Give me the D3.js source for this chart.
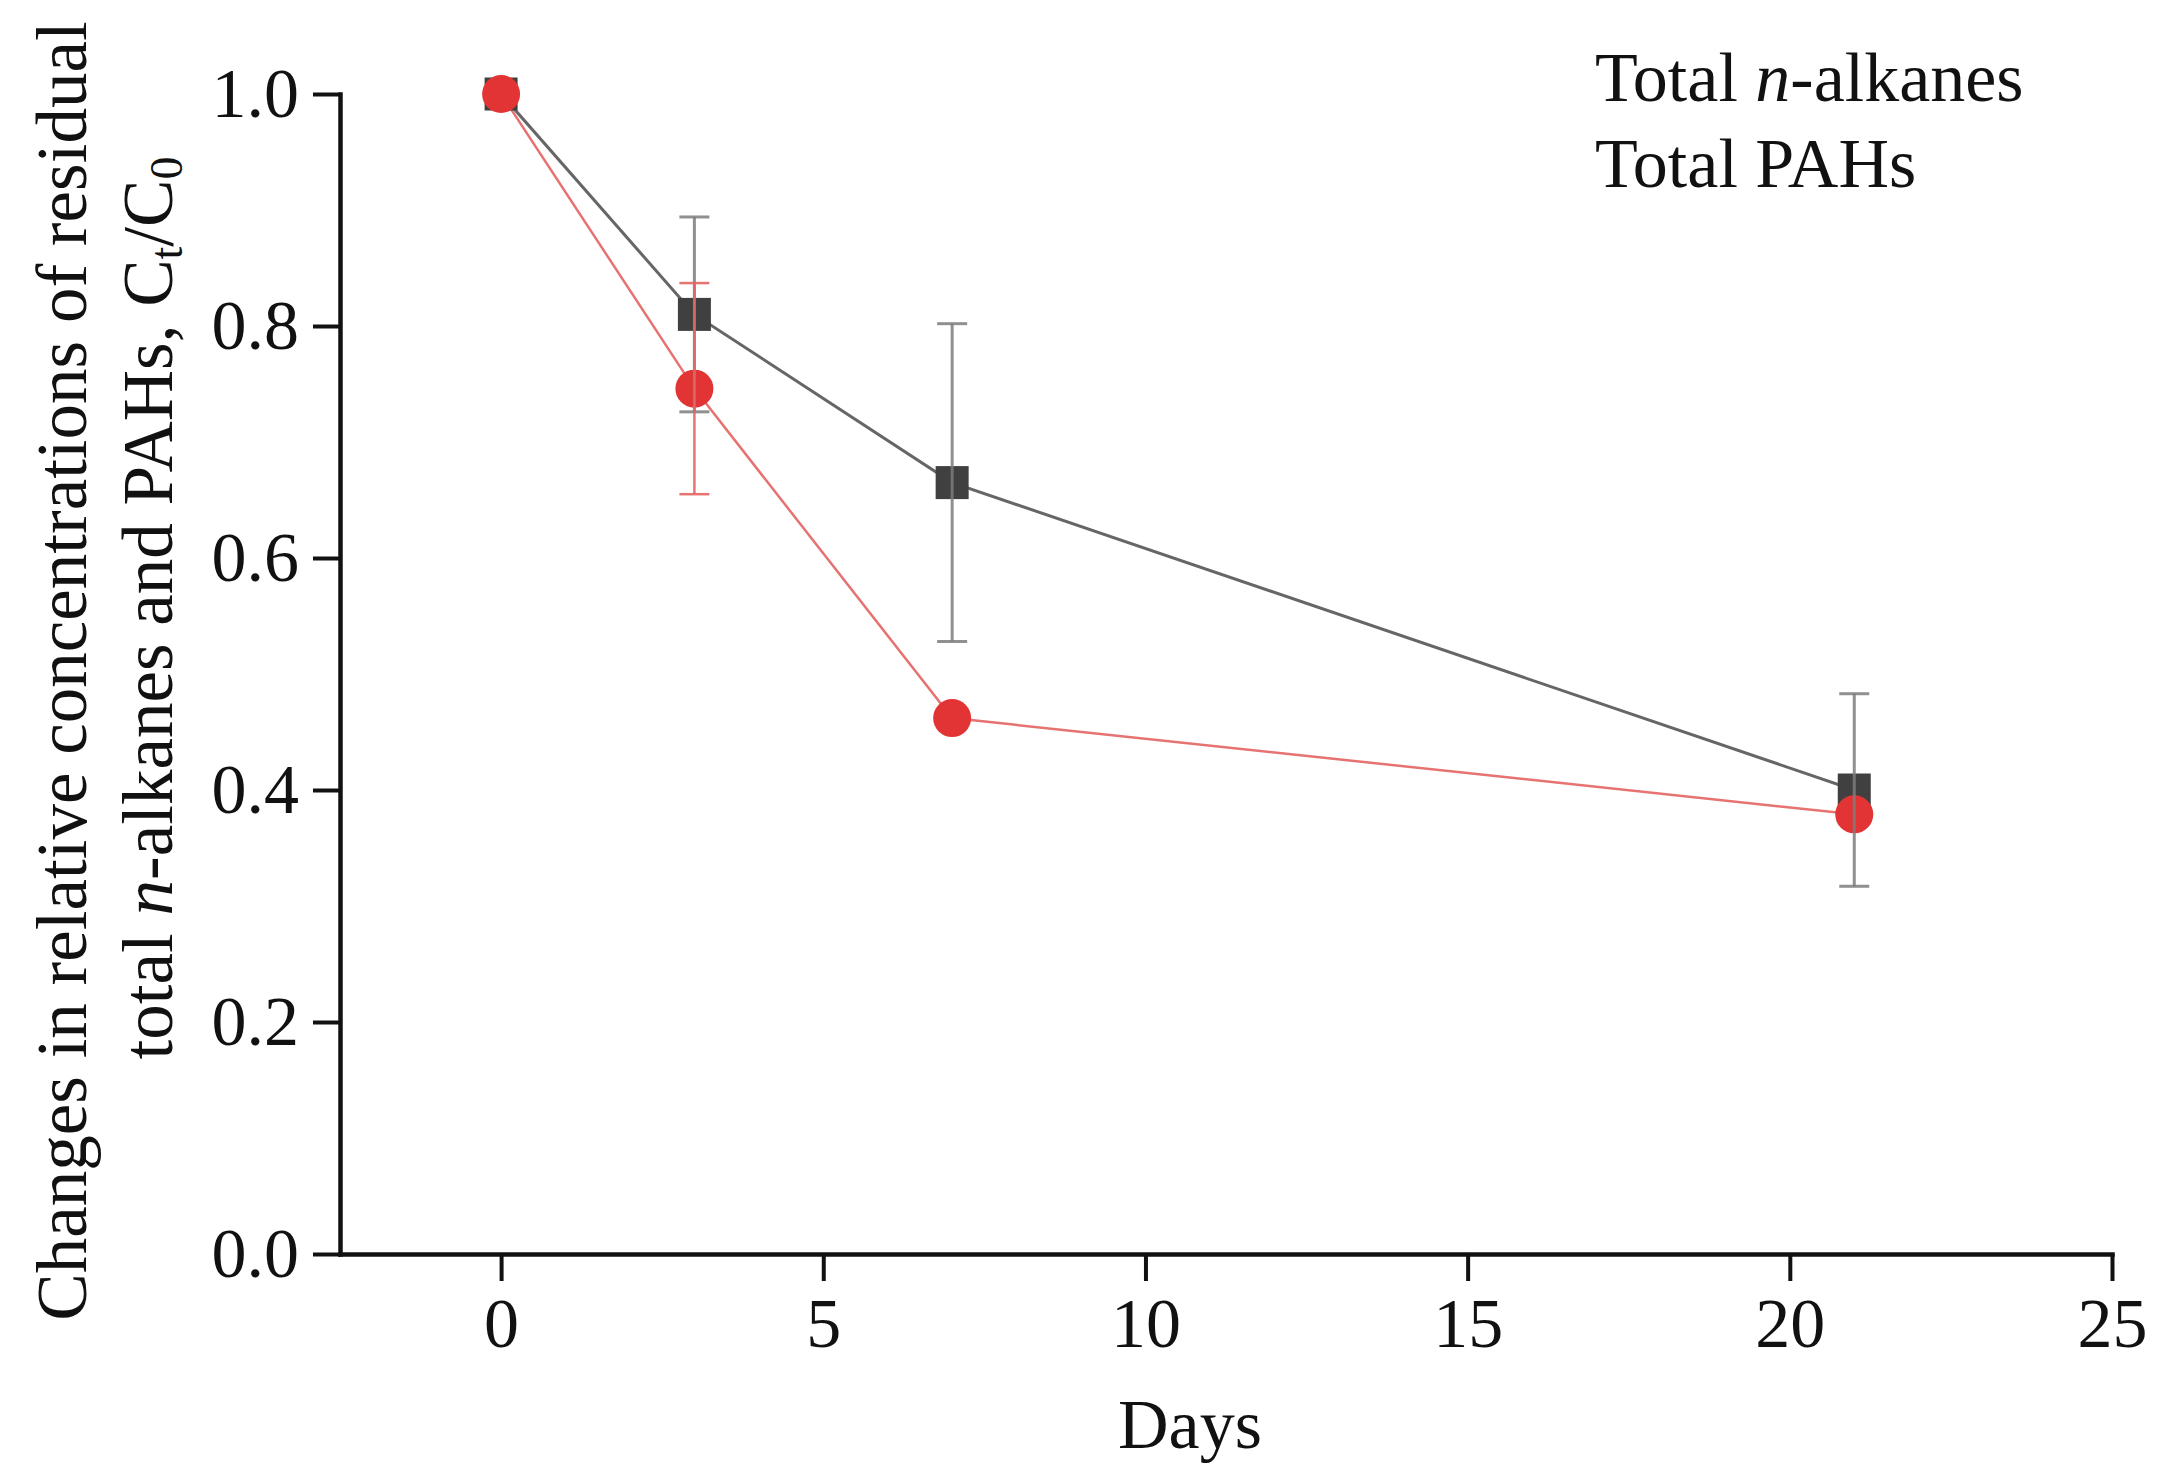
<!DOCTYPE html>
<html>
<head>
<meta charset="utf-8">
<script src="https://cdn.jsdelivr.net/npm/d3@7"></script>
<style>
  html, body { margin: 0; padding: 0; background: #ffffff; }
  svg { display: block; }
  text { font-family: "Liberation Serif", "Times New Roman", "DejaVu Serif", serif; fill: #111; }
</style>
</head>
<body>
<svg id="chart" width="2180" height="1476"></svg>
<script>
// ---- data ----
const days = [0, 3, 7, 21];
const alkanes = [1.0, 0.81, 0.665, 0.40];
const alkanesErr = [0, 0.084, 0.137, 0.083];
const pahs = [1.0, 0.746, 0.462, 0.379];
const pahsErr = [0, 0.091, 0, 0];
const xTicks = [0, 5, 10, 15, 20, 25];
const yTicks = [0.0, 0.2, 0.4, 0.6, 0.8, 1.0];
const xDomain = [-2.5, 25];
const yDomain = [0, 1];
const legendLabels = ["Total n-alkanes", "Total PAHs"];

(function () {
// ---- layout ----
const padL = 340, padR = 2112, padT = 94, padB = 1254;

const svg = d3.select("#chart");

const x = d3.scaleLinear().domain(xDomain).range([padL, padR]);
const y = d3.scaleLinear().domain(yDomain).range([padB, padT]);

const fontSize = 70;

// axes
const yAxis = d3.axisLeft(y).tickValues(yTicks).tickFormat(d3.format(".1f"))
  .tickSize(27).tickSizeOuter(0).tickPadding(14);
const xAxis = d3.axisBottom(x).tickValues(xTicks).tickFormat(d3.format("d"))
  .tickSize(27).tickSizeOuter(0).tickPadding(16);

const gy = svg.append("g").attr("transform", `translate(${padL},0)`).call(yAxis);
const gx = svg.append("g").attr("transform", `translate(0,${padB})`).call(xAxis);

[gx, gy].forEach(g => {
  g.select(".domain").attr("stroke", "#111").attr("stroke-width", 4.5).attr("stroke-linecap", "square");
  g.selectAll(".tick line").attr("stroke", "#111").attr("stroke-width", 4);
  g.selectAll(".tick text")
    .style("font-family", '"Liberation Serif", "Times New Roman", serif')
    .style("font-size", fontSize + "px").attr("fill", "#111");
});

// ---- series ----
const blackSeries = days.map((d, i) => ({ d, v: alkanes[i], e: alkanesErr[i] }));
const redSeries = days.map((d, i) => ({ d, v: pahs[i], e: pahsErr[i] }));

const line = d3.line().x(p => x(p.d)).y(p => y(p.v));

const plot = svg.append("g");

// lines
plot.append("path").datum(blackSeries)
  .attr("d", line).attr("fill", "none")
  .attr("stroke", "#666666").attr("stroke-width", 3);
plot.append("path").datum(redSeries)
  .attr("d", line).attr("fill", "none")
  .attr("stroke", "#e77272").attr("stroke-width", 2.5);

// markers: black squares
const sq = 33;
plot.selectAll("rect.sq").data(blackSeries).enter().append("rect")
  .attr("class", "sq")
  .attr("x", p => x(p.d) - sq / 2).attr("y", p => y(p.v) - sq / 2)
  .attr("width", sq).attr("height", sq)
  .attr("fill", "#404040");

// markers: red circles
plot.selectAll("circle.rc").data(redSeries).enter().append("circle")
  .attr("class", "rc")
  .attr("cx", p => x(p.d)).attr("cy", p => y(p.v)).attr("r", 19)
  .attr("fill", "#e23434");

// error bars
function errorBars(data, color, width) {
  const eb = plot.append("g").attr("stroke", color).attr("stroke-width", width).attr("fill", "none");
  data.filter(p => p.e > 0).forEach(p => {
    const cx = x(p.d), y1 = y(p.v + p.e), y2 = y(p.v - p.e);
    eb.append("line").attr("x1", cx).attr("x2", cx).attr("y1", y1).attr("y2", y2);
    eb.append("line").attr("x1", cx - 15).attr("x2", cx + 15).attr("y1", y1).attr("y2", y1);
    eb.append("line").attr("x1", cx - 15).attr("x2", cx + 15).attr("y1", y2).attr("y2", y2);
  });
}
errorBars(blackSeries, "rgba(125,125,125,0.85)", 3);
errorBars(redSeries, "rgba(230,100,100,0.9)", 2.5);

// ---- legend (text only) ----
const lg = svg.append("g").style("font-size", fontSize + "px");
const l1 = lg.append("text").attr("x", 1595).attr("y", 101);
l1.append("tspan").text("Total ");
l1.append("tspan").style("font-style", "italic").text("n");
l1.append("tspan").text("-alkanes");
lg.append("text").attr("x", 1595).attr("y", 187).text(legendLabels[1]);

// ---- axis titles ----
svg.append("text")
  .attr("x", 1190).attr("y", 1448)
  .attr("text-anchor", "middle")
  .style("font-size", fontSize + "px")
  .text("Days");

svg.append("text")
  .attr("transform", "translate(86,671) rotate(-90)")
  .attr("text-anchor", "middle")
  .style("font-size", "71px")
  .text("Changes in relative concentrations of residual");

const yt2 = svg.append("text")
  .attr("transform", "translate(172,608) rotate(-90)")
  .attr("text-anchor", "middle")
  .style("font-size", "71px");
yt2.append("tspan").text("total ");
yt2.append("tspan").style("font-style", "italic").text("n");
yt2.append("tspan").text("-alkanes and PAHs, C");
yt2.append("tspan").attr("dy", 10).style("font-size", "46px").text("t");
yt2.append("tspan").attr("dy", -10).text("/C");
yt2.append("tspan").attr("dy", 10).style("font-size", "46px").text("0");
})();
</script>
</body>
</html>
